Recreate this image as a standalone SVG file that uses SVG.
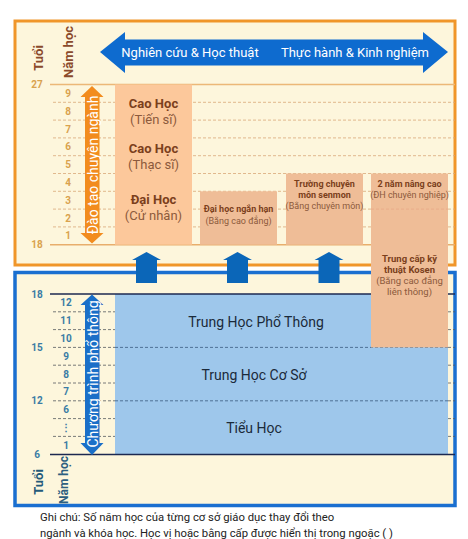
<svg xmlns="http://www.w3.org/2000/svg" width="468" height="539" viewBox="0 0 468 539">
<style>
text{font-family:Roboto,"Noto Sans","Liberation Sans",sans-serif}
.frameO{fill:#fdf6dc;stroke:#f0962a;stroke-width:3}
.frameB{fill:#fdf6dc;stroke:#1a6fd0;stroke-width:3.5}
.dashO{stroke:#d9a878;stroke-width:0.8;stroke-dasharray:3 2;fill:none}
.dashB{stroke:#555a60;stroke-width:0.8;stroke-dasharray:3 2;fill:none}
.dashBB{stroke:#3a5c80;stroke-width:0.8;stroke-dasharray:3 2;fill:none}
.numO{fill:#d9a24e;font-size:10px;font-weight:bold;text-anchor:middle;dominant-baseline:central}
.numB{fill:#3a7ca5;font-size:10px;font-weight:bold;text-anchor:middle;dominant-baseline:central}
.peach{fill:#fcc89b}
.tan{fill:#efbd97}
.bt{fill:#7b3f1c;font-weight:bold;text-anchor:middle;dominant-baseline:central}
.rt{fill:#8c5a3c;text-anchor:middle;dominant-baseline:central}
.wt{fill:#ffffff;text-anchor:middle;dominant-baseline:central}
.blt{fill:#1b2a3a;font-size:14px;text-anchor:middle;dominant-baseline:central}
.up{fill:#0b66b8}
</style>

<g id="frame-upper">
<rect class="frameO" x="15" y="21" width="440" height="244"/>
<line x1="50" y1="84.5" x2="455" y2="84.5" stroke="#ecb877" stroke-width="1.5"/>
<line x1="50" y1="244.7" x2="455" y2="244.7" stroke="#e8ae6c" stroke-width="1.5"/>
<g class="dashO">
<line x1="53" y1="102.3" x2="455" y2="102.3"/>
<line x1="53" y1="120.1" x2="455" y2="120.1"/>
<line x1="53" y1="137.9" x2="455" y2="137.9"/>
<line x1="53" y1="155.7" x2="455" y2="155.7"/>
<line x1="53" y1="173.5" x2="455" y2="173.5"/>
<line x1="53" y1="191.3" x2="455" y2="191.3"/>
<line x1="53" y1="209.1" x2="455" y2="209.1"/>
<line x1="53" y1="226.9" x2="455" y2="226.9"/>
</g>
<text class="numO" x="37" y="84.5">27</text>
<text class="numO" x="37" y="244.7">18</text>
<text class="numO" x="68" y="93.4">9</text>
<text class="numO" x="68" y="111.2">8</text>
<text class="numO" x="68" y="129">7</text>
<text class="numO" x="68" y="146.8">6</text>
<text class="numO" x="68" y="164.6">5</text>
<text class="numO" x="68" y="182.4">4</text>
<text class="numO" x="68" y="200.2">3</text>
<text class="numO" x="68" y="218">2</text>
<text class="numO" x="68" y="235.8">1</text>
<text transform="translate(38,58) rotate(-90)" fill="#8b4a2b" font-size="13" font-weight="bold" text-anchor="middle" dominant-baseline="central">Tuổi</text>
<text transform="translate(68,52) rotate(-90)" fill="#8b4a2b" font-size="13" font-weight="bold" text-anchor="middle" dominant-baseline="central">Năm học</text>
</g>

<g id="frame-lower">
<rect class="frameB" x="15" y="272.5" width="440" height="233"/>
<g class="dashB">
<line x1="53" y1="311.8" x2="455" y2="311.8"/>
<line x1="53" y1="329.6" x2="455" y2="329.6"/>
<line x1="53" y1="365.2" x2="455" y2="365.2"/>
<line x1="53" y1="383" x2="455" y2="383"/>
<line x1="53" y1="418.6" x2="455" y2="418.6"/>
<line x1="53" y1="436.4" x2="455" y2="436.4"/>
<line x1="53" y1="347.4" x2="455" y2="347.4"/>
<line x1="53" y1="400.8" x2="455" y2="400.8"/>
</g>
<text class="numB" x="37" y="294">18</text>
<text class="numB" x="37" y="347.4">15</text>
<text class="numB" x="37" y="400.8">12</text>
<text class="numB" x="37" y="454.2">6</text>
<text class="numB" x="66" y="302.9">12</text>
<text class="numB" x="66" y="320.7">11</text>
<text class="numB" x="66" y="338.5">10</text>
<text class="numB" x="66" y="356.3">9</text>
<text class="numB" x="66" y="374.1">8</text>
<text class="numB" x="66" y="391.9">7</text>
<text class="numB" x="66" y="409.7">6</text>
<text class="numB" x="66" y="427.5">⋮</text>
<text class="numB" x="66" y="445.3">1</text>
<text transform="translate(38,482) rotate(-90)" fill="#245a7a" font-size="13" font-weight="bold" text-anchor="middle" dominant-baseline="central">Tuổi</text>
<text transform="translate(64,480) rotate(-90)" fill="#2d5f80" font-size="12" font-weight="bold" text-anchor="middle" dominant-baseline="central">Năm học</text>
</g>

<g id="node-thpt-thcs-tieuhoc">
<rect x="115" y="294" width="333" height="160.2" fill="#9ec7eb"/>
<line class="dashBB" x1="115" y1="347.4" x2="448" y2="347.4"/>
<line class="dashBB" x1="115" y1="400.8" x2="448" y2="400.8"/>
<line x1="50" y1="294" x2="455" y2="294" stroke="#1c2850" stroke-width="1.5"/>
<line x1="50" y1="454.5" x2="455" y2="454.5" stroke="#1c2850" stroke-width="1.5"/>
<text class="blt" x="256" y="321.5">Trung Học Phổ Thông</text>
<text class="blt" x="254" y="374.5">Trung Học Cơ Sở</text>
<text class="blt" x="254" y="427.5">Tiểu Học</text>
</g>

<g id="header-arrow">
<path d="M100,52 L125,32 L125,39.5 L423,39.5 L423,32 L448,52 L423,73 L423,65.5 L125,65.5 L125,73 Z" fill="#0e6bcf"/>
<text class="wt" x="190" y="52.5" font-size="13">Nghiên cứu &amp; Học thuật</text>
<text class="wt" x="355" y="52.5" font-size="13">Thực hành &amp; Kinh nghiệm</text>
</g>

<g id="node-caohoc">
<rect class="peach" x="115" y="84.5" width="77" height="160.2"/>
<text class="bt" x="153.5" y="103" font-size="13">Cao Học</text>
<text class="rt" x="153.5" y="119" font-size="13">(Tiến sĩ)</text>
<text class="bt" x="153.5" y="148" font-size="13">Cao Học</text>
<text class="rt" x="153.5" y="164" font-size="13">(Thạc sĩ)</text>
<text class="bt" x="153.5" y="199" font-size="13">Đại Học</text>
<text class="rt" x="153.5" y="215" font-size="13">(Cử nhân)</text>
</g>

<g id="node-daihocnganhan">
<rect class="tan" x="200" y="191.3" width="77" height="53.4"/>
<text class="bt" x="238.5" y="209" font-size="9">Đại học ngắn hạn</text>
<text class="rt" x="238.5" y="221" font-size="9">(Bằng cao đẳng)</text>
</g>

<g id="node-senmon">
<rect class="tan" x="286" y="173.5" width="77" height="71.2"/>
<text class="bt" x="324.5" y="184" font-size="9">Trường chuyên</text>
<text class="bt" x="324.5" y="195" font-size="9">môn senmon</text>
<text class="rt" x="324.5" y="206" font-size="9">(Bằng chuyên môn)</text>
</g>

<g id="node-kosen">
<rect class="tan" x="371" y="173.5" width="77" height="173.9"/>
<line x1="371" y1="209.1" x2="448" y2="209.1" stroke="#e8a888" stroke-width="0.8" stroke-dasharray="3 2"/>
<text class="bt" x="409.5" y="184" font-size="9">2 năm nâng cao</text>
<text class="rt" x="409.5" y="195" font-size="9">(ĐH chuyên nghiệp)</text>
<text class="bt" x="409.5" y="258" font-size="9.5">Trung cấp kỹ</text>
<text class="bt" x="409.5" y="269" font-size="9.5">thuật Kosen</text>
<text class="rt" x="409.5" y="280" font-size="9.5">(Bằng cao đẳng</text>
<text class="rt" x="409.5" y="291" font-size="9.5">liên thông)</text>
</g>

<g id="node-daotao-chuyennganh">
<path d="M92,86 L80.5,97 L85,97 L85,233 L80.5,233 L92,243.5 L103.5,233 L99.5,233 L99.5,97 L103.5,97 Z" fill="#f28c1e"/>
<text class="wt" transform="translate(92.5,165) rotate(-90)" font-size="14">Đào tạo chuyên ngành</text>
</g>

<g id="node-chuongtrinh-phothong">
<path d="M92,294.5 L80.5,305 L85,305 L85,443 L80.5,443 L92,455 L103.5,443 L99.5,443 L99.5,305 L103.5,305 Z" fill="#1a6fc8"/>
<text class="wt" transform="translate(92.5,374) rotate(-90)" font-size="14">Chương trình phổ thông</text>
</g>

<g id="connectors">
<path class="up" d="M146.5,252 L132,260 L136,260 L136,283 L157,283 L157,260 L161,260 Z"/>
<path class="up" d="M237.5,252 L223,260 L227,260 L227,283 L248,283 L248,260 L252,260 Z"/>
<path class="up" d="M329,252 L314.5,260 L318.5,260 L318.5,283 L339.5,283 L339.5,260 L343.5,260 Z"/>
</g>

<g id="footnote">
<text x="40" y="521" fill="#222" font-size="11.3">Ghi chú: Số năm học của từng cơ sở giáo dục thay đổi theo</text>
<text x="40" y="537" fill="#222" font-size="11.3">ngành và khóa học. Học vị hoặc bằng cấp được hiển thị trong ngoặc ( )</text>
</g>
</svg>
